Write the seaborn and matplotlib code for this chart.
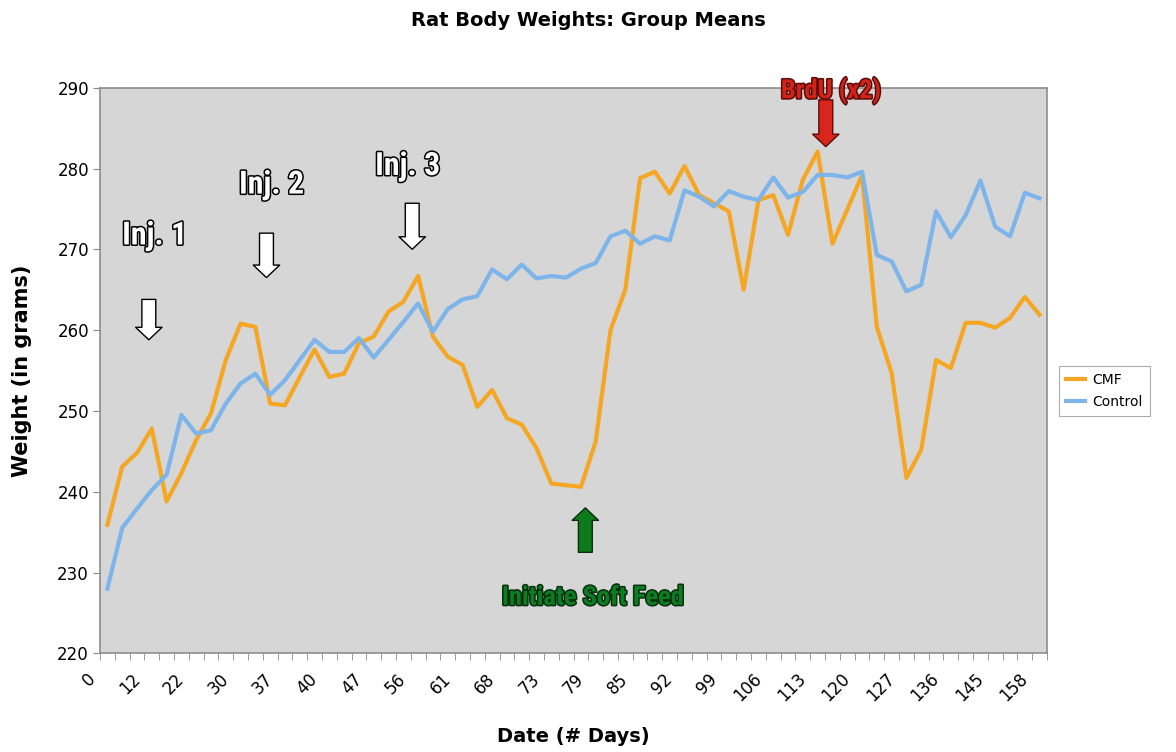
import pandas as pd
import matplotlib
matplotlib.use("Agg")
import matplotlib.pyplot as plt
import matplotlib.patheffects as pe
import matplotlib.transforms as mtransforms
from matplotlib.ticker import FixedLocator
from matplotlib.lines import Line2D
import seaborn as sns

# Group mean weights, one value per weighing session (64 sessions)
cmf = [235.9, 243.1, 244.8, 247.8, 238.8, 242.3, 246.4, 249.7, 256.3, 260.8,
       260.4, 250.9, 250.7, 254.2, 257.6, 254.2, 254.6, 258.4, 259.2, 262.3,
       263.5, 266.7, 259.2, 256.7, 255.7, 250.5, 252.6, 249.1, 248.3, 245.4,
       241.0, 240.8, 240.6, 246.2, 260.0, 265.0, 278.8, 279.6, 276.9, 280.3,
       276.7, 275.7, 274.7, 265.0, 276.1, 276.7, 271.8, 278.6, 282.1, 270.7,
       274.9, 279.2, 260.4, 254.7, 241.7, 245.2, 256.3, 255.3, 260.9, 260.9,
       260.3, 261.5, 264.1, 261.9]
control = [228.0, 235.5, 237.9, 240.2, 242.1, 249.5, 247.2, 247.6, 250.9, 253.4,
           254.6, 252.0, 253.8, 256.3, 258.8, 257.3, 257.3, 259.0, 256.6, 258.8,
           261.0, 263.3, 259.8, 262.6, 263.8, 264.2, 267.5, 266.3, 268.1, 266.4,
           266.7, 266.5, 267.6, 268.3, 271.6, 272.3, 270.7, 271.6, 271.1, 277.3,
           276.5, 275.3, 277.2, 276.5, 276.1, 278.9, 276.4, 277.1, 279.2, 279.2,
           278.9, 279.6, 269.3, 268.5, 264.8, 265.6, 274.7, 271.5, 274.2, 278.5,
           272.8, 271.6, 277.0, 276.3]
# labels shown on every third session
day_labels = ['0', '12', '22', '30', '37', '40', '47', '56', '61', '68', '73',
              '79', '85', '92', '99', '106', '113', '120', '127', '136', '145', '158']

session = list(range(len(cmf)))
df = pd.DataFrame({
    'session': session * 2,
    'weight': cmf + control,
    'group': ['CMF'] * len(cmf) + ['Control'] * len(control),
})

fig = plt.figure(figsize=(11.76, 7.52), dpi=100)
ax = fig.add_axes([100 / 1176, 1 - 653.3 / 752, 947 / 1176, (653.3 - 87.7) / 752])
ax.set_facecolor('#d6d6d6')

sns.lineplot(data=df, x='session', y='weight', hue='group',
             palette={'CMF': '#f5a623', 'Control': '#7db4ea'},
             linewidth=3, ax=ax, legend=False)

ax.set_xlim(-0.5, len(cmf) - 0.5)
ax.set_ylim(220, 290)
ax.set_yticks(range(220, 291, 10))
ax.set_xticks(session[::3])
ax.set_xticklabels(day_labels, rotation=45, ha='right', rotation_mode='anchor')
ax.xaxis.set_minor_locator(FixedLocator([i - 0.5 for i in range(len(cmf) + 1)]))
ax.tick_params(axis='x', which='major', length=0, pad=12, labelsize=12)
ax.tick_params(axis='x', which='minor', length=5, color='#888888')
ax.tick_params(axis='y', length=5, color='#888888', labelsize=12, pad=3)
shift = mtransforms.ScaledTranslation(-21 / 100, 0, fig.dpi_scale_trans)
for t in ax.get_xticklabels():
    t.set_transform(t.get_transform() + shift)
for sp in ax.spines.values():
    sp.set_color('#8c8c8c')
    sp.set_linewidth(1.2)

ax.set_xlabel('Date (# Days)', fontsize=14, fontweight='bold', labelpad=16)
ax.set_ylabel('Weight (in grams)', fontsize=15, fontweight='bold', labelpad=18)
fig.text(0.5, 1 - 21 / 752, 'Rat Body Weights: Group Means',
         ha='center', va='center', fontsize=14, fontweight='bold')

# legend
handles = [Line2D([], [], color='#f5a623', lw=3), Line2D([], [], color='#7db4ea', lw=3)]
leg = fig.legend(handles, ['CMF', 'Control'], loc='center left',
                 bbox_to_anchor=(1052 / 1176, 1 - 391 / 752), fontsize=10,
                 frameon=True, fancybox=False, handlelength=1.4,
                 handletextpad=0.5, borderpad=0.5, labelspacing=0.6)
leg.get_frame().set_edgecolor('#999999')
leg.get_frame().set_linewidth(0.8)

# event annotations
narrow = ['Roboto Condensed', 'DejaVu Sans']


def label(x, y, s, fc, ec, size):
    ax.text(x, y, s, ha='center', va='baseline', fontsize=size, fontweight='bold',
            family=narrow, fontstretch='condensed', color=fc,
            path_effects=[pe.withStroke(linewidth=2.2, foreground=ec)])


def arrow(x, y0, y1, fc, ec):
    ax.annotate('', xy=(x, y1), xytext=(x, y0),
                arrowprops=dict(arrowstyle='simple,head_length=0.45,head_width=0.95,tail_width=0.5',
                                fc=fc, ec=ec, lw=1, shrinkA=0, shrinkB=0,
                                mutation_scale=20))


label(3.2, 270.6, 'Inj. 1', 'white', 'black', 23)
arrow(2.8, 263.8, 258.8, 'white', 'black')
label(11.1, 276.9, 'Inj. 2', 'white', 'black', 23)
arrow(10.75, 272.0, 266.5, 'white', 'black')
label(20.3, 279.2, 'Inj. 3', 'white', 'black', 23)
arrow(20.6, 275.7, 270.0, 'white', 'black')
label(48.9, 288.7, 'BrdU (x2)', '#d0231a', '#5a0c08', 19)
arrow(48.55, 288.5, 282.7, '#d9261c', '#5a0c08')
label(32.8, 226.0, 'Initiate Soft Feed', '#0c7d22', '#0a2e0e', 19)
arrow(32.3, 232.5, 238.0, '#0d7a1c', '#0a2e0e')

fig.savefig('out.png', dpi=100)
